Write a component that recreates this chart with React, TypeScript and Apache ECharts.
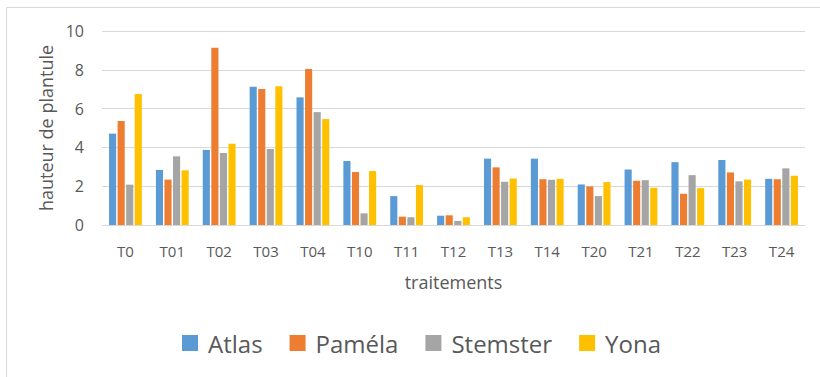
import React, { useEffect, useRef } from "react";
import * as echarts from "echarts";

const categories = ["T0", "T01", "T02", "T03", "T04", "T10", "T11", "T12", "T13", "T14", "T20", "T21", "T22", "T23", "T24"];
const atlas = [4.71, 2.84, 3.87, 7.13, 6.58, 3.3, 1.49, 0.48, 3.42, 3.42, 2.09, 2.86, 3.24, 3.35, 2.38];
const pamela = [5.36, 2.34, 9.14, 7.01, 8.04, 2.73, 0.43, 0.5, 2.97, 2.36, 1.99, 2.28, 1.61, 2.71, 2.36];
const stemster = [2.08, 3.54, 3.71, 3.92, 5.82, 0.6, 0.4, 0.21, 2.23, 2.33, 1.49, 2.31, 2.57, 2.25, 2.92];
const yona = [6.75, 2.82, 4.19, 7.15, 5.46, 2.78, 2.06, 0.4, 2.4, 2.38, 2.21, 1.92, 1.9, 2.34, 2.54];
const yTicks = { min: 0, max: 10, interval: 2 };

const FONT = "'Open Sans', Lato, sans-serif";
const TEXT = "#595959";

export default function App() {
  const ref = useRef<HTMLDivElement>(null);
  useEffect(() => {
    if (!ref.current) return;
    const chart = echarts.init(ref.current, null, { renderer: "svg" });
    const mk = (name: string, data: number[], color: string) => ({
      name,
      type: "bar",
      data,
      barGap: "20%",
      barCategoryGap: "30%",
      itemStyle: { color },
    });
    chart.setOption({
      animation: false,
      textStyle: { fontFamily: FONT },
      graphic: [
        {
          type: "rect",
          shape: { x: 6.5, y: 7.5, width: 840, height: 420 },
          style: { fill: "none", stroke: "#D9D9D9", lineWidth: 1 },
          silent: true,
        },
      ],
      grid: { left: 102, right: 15, top: 31, bottom: 152 },
      legend: {
        top: 326,
        left: 177,
        itemWidth: 16,
        itemHeight: 16,
        itemGap: 27,
        icon: "rect",
        textStyle: { fontSize: 24, color: TEXT, fontFamily: FONT, padding: [0, 0, 0, 5] },
        data: ["Atlas", "Paméla", "Stemster", "Yona"],
      },
      xAxis: {
        type: "category",
        data: categories,
        name: "traitements",
        nameLocation: "middle",
        nameGap: 48,
        nameTextStyle: { fontSize: 18, color: TEXT, verticalAlign: "top" },
        axisLine: { lineStyle: { color: "#D9D9D9", width: 1 } },
        axisTick: { show: false },
        axisLabel: { color: TEXT, fontSize: 15, margin: 18 },
      },
      yAxis: {
        type: "value",
        min: yTicks.min,
        max: yTicks.max,
        interval: yTicks.interval,
        name: "hauteur de plantule",
        nameLocation: "middle",
        nameGap: 46,
        nameTextStyle: { fontSize: 18, color: TEXT },
        axisLine: { show: false },
        axisTick: { show: false },
        axisLabel: { color: TEXT, fontSize: 16, margin: 18 },
        splitLine: { lineStyle: { color: "#D9D9D9", width: 1 } },
      },
      series: [
        mk("Atlas", atlas, "#5B9BD5"),
        mk("Paméla", pamela, "#ED7D31"),
        mk("Stemster", stemster, "#A5A5A5"),
        mk("Yona", yona, "#FFC000"),
      ],
    });
    return () => chart.dispose();
  }, []);
  return <div ref={ref} style={{ width: 820, height: 377, position: "absolute", left: 0, top: 0 }} />;
}
